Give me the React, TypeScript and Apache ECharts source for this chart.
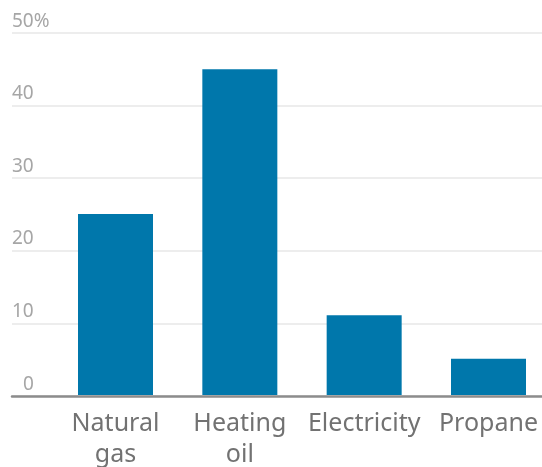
import React, { useEffect, useRef } from "react";
import * as echarts from "echarts";

const categories = ["Natural\ngas", "Heating\noil", "Electricity", "Propane"];
const shares = [25, 45, 11, 5];
const yTicks = [0, 10, 20, 30, 40, 50];

export default function App() {
  const ref = useRef<HTMLDivElement>(null);

  useEffect(() => {
    const chart = echarts.init(ref.current!, null, { renderer: "svg" });
    const top = 33;
    const bottom = 71;
    const yMin = yTicks[0];
    const yMax = yTicks[yTicks.length - 1];
    const yStep = yTicks[1] - yTicks[0];
    chart.setOption({
      animation: false,
      grid: [
        // full-width plot area: gridlines, baseline and tick labels
        { left: 12, right: 0, top, bottom },
        // bar area: categories sit on points from first to last bar centre
        { left: 115.5, right: 53.5, top, bottom },
      ],
      xAxis: [
        {
          gridIndex: 0,
          type: "value",
          min: 0,
          max: 1,
          axisLine: { show: true, onZero: false, lineStyle: { color: "#8c8c8c", width: 2.5 } },
          axisTick: { show: false },
          axisLabel: { show: false },
          splitLine: { show: false },
        },
        {
          gridIndex: 1,
          type: "category",
          data: categories,
          boundaryGap: false,
          axisLine: { show: false },
          axisTick: { show: false },
          splitLine: { show: false },
          axisLabel: {
            color: "#727272",
            fontFamily: "Noto Sans",
            fontSize: 25,
            lineHeight: 31,
            margin: 10,
            interval: 0,
          },
        },
      ],
      yAxis: [
        {
          gridIndex: 0,
          type: "value",
          min: yMin,
          max: yMax,
          interval: yStep,
          axisLine: { show: false },
          axisTick: { show: false },
          splitLine: { lineStyle: { color: "#ededed", width: 2 } },
          axisLabel: {
            inside: true,
            margin: 0,
            verticalAlign: "bottom",
            color: "#a6a6a6",
            fontFamily: "Noto Sans",
            fontSize: 19,
            padding: [0, 0, 4, 0],
            formatter: (v: number) =>
              v === yMax ? `${v}%` : v === 0 ? "{z|0}" : String(v),
            rich: {
              z: {
                color: "#a6a6a6",
                fontFamily: "Noto Sans",
                fontSize: 19,
                padding: [0, 0, 0, 11],
              },
            },
          },
        },
        {
          gridIndex: 1,
          type: "value",
          min: yMin,
          max: yMax,
          interval: yStep,
          show: false,
        },
      ],
      series: [
        {
          type: "bar",
          xAxisIndex: 1,
          yAxisIndex: 1,
          data: shares,
          barWidth: 75,
          itemStyle: { color: "#0077ab" },
        },
      ],
    });
    return () => chart.dispose();
  }, []);

  return (
    <div
      ref={ref}
      style={{ position: "fixed", left: 0, top: 0, width: 542, height: 467 }}
    />
  );
}
